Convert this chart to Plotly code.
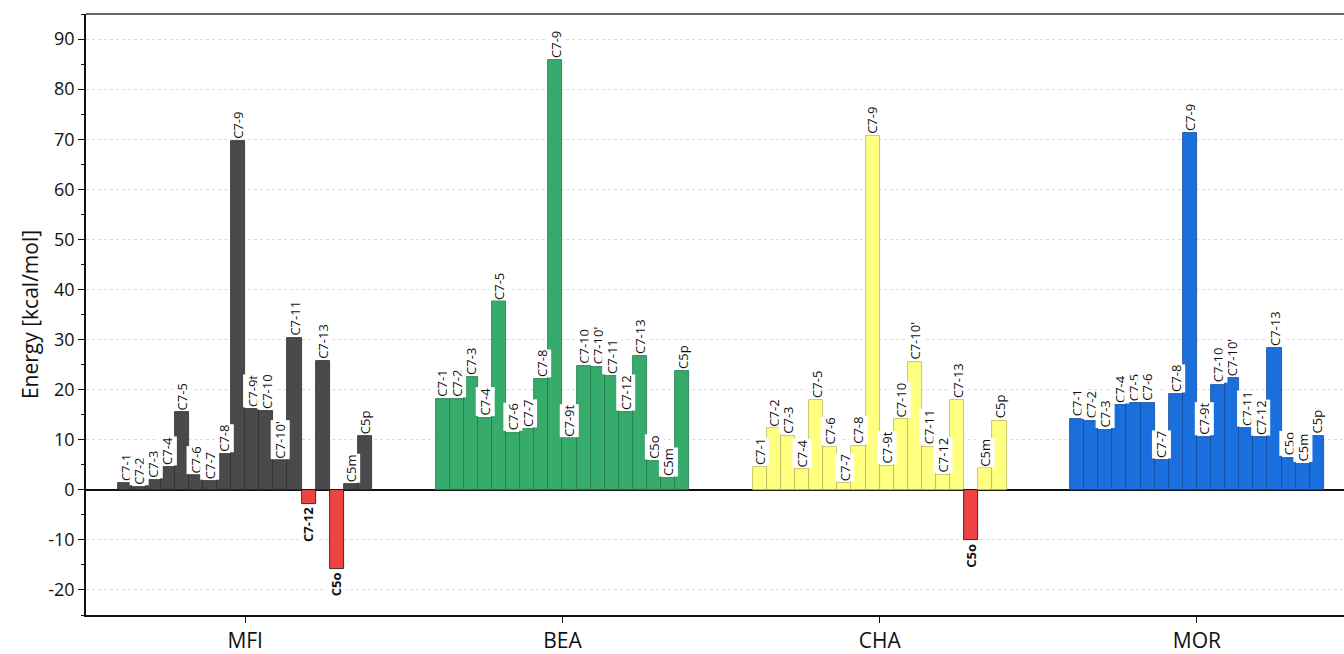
import plotly.graph_objects as go

structures = ["C7-1", "C7-2", "C7-3", "C7-4", "C7-5", "C7-6", "C7-7", "C7-8", "C7-9",
              "C7-9t", "C7-10", "C7-10'", "C7-11", "C7-12", "C7-13", "C5o", "C5m", "C5p"]
zeolites = ["MFI", "BEA", "CHA", "MOR"]

mfi = [1.3, 0.6, 2.0, 4.5, 15.5, 2.9, 1.8, 7.1, 69.6, 16.2, 15.7, 5.9, 30.4, -2.8, 25.8, -15.9, 1.1, 10.7]
bea = [18.2, 18.2, 22.6, 14.4, 37.6, 11.4, 12.1, 22.1, 85.8, 10.3, 24.8, 24.6, 22.8, 15.6, 26.8, 5.8, 2.4, 23.8]
cha = [4.6, 12.3, 10.7, 4.1, 17.9, 8.6, 1.3, 8.8, 70.7, 4.8, 14.1, 25.6, 8.6, 3.0, 17.9, -10.1, 4.3, 13.8]
mor = [14.2, 13.8, 12.0, 17.0, 17.3, 17.4, 6.0, 19.2, 71.3, 10.6, 21.0, 22.3, 12.3, 10.5, 28.3, 6.4, 5.2, 10.8]

y_ticks = [-20, -10, 0, 10, 20, 30, 40, 50, 60, 70, 80, 90]

series = [mfi, bea, cha, mor]
fill_colors = ["#4a4a4a", "#37ab6b", "#ffff80", "#1b6fdc"]
line_colors = ["#2e2e2e", "#1f7a48", "#b8b860", "#0f4a9a"]
neg_fill = "#ef4444"
neg_line = "#111111"

GROUP_SPACING = 22.5
n = len(structures)

fig = go.Figure()
annotations = []
for g, (name, vals) in enumerate(zip(zeolites, series)):
    xs = [g * GROUP_SPACING + i - (n - 1) / 2 for i in range(n)]
    colors = [fill_colors[g] if v >= 0 else neg_fill for v in vals]
    lcolors = [line_colors[g] if v >= 0 else neg_line for v in vals]
    fig.add_trace(go.Bar(
        x=xs, y=vals, width=1.0, name=name,
        marker=dict(color=colors, line=dict(color=lcolors, width=0.8)),
        showlegend=False,
    ))
    for x, v, s in zip(xs, vals, structures):
        if v >= 0:
            annotations.append(dict(
                x=x, y=v, xref="x", yref="y", text=s, showarrow=False,
                textangle=-90, xanchor="center", yanchor="bottom", yshift=1,
                bgcolor="white", borderpad=0,
                font=dict(family="Open Sans", size=13, color="#111"),
            ))
        else:
            annotations.append(dict(
                x=x, y=v, xref="x", yref="y", text="<b>" + s + "</b>", showarrow=False,
                textangle=-90, xanchor="center", yanchor="top", yshift=-2,
                bgcolor="white", borderpad=0,
                font=dict(family="Open Sans", size=13, color="#111"),
            ))

fig.update_layout(
    width=1344, height=654,
    margin=dict(l=86, r=0, t=14, b=37),
    paper_bgcolor="white", plot_bgcolor="white",
    bargap=0,
    annotations=annotations,
    font=dict(family="Open Sans", color="#111"),
    shapes=[dict(type="line", xref="paper", yref="paper", x0=0, x1=1, y0=1, y1=1,
                 line=dict(color="#666", width=2))],
)
fig.update_xaxes(
    range=[-11.29, 77.93],
    tickvals=[g * GROUP_SPACING for g in range(len(zeolites))],
    ticktext=zeolites,
    showline=True, linecolor="#111", linewidth=1.5,
    ticks="outside", ticklen=6, tickcolor="#111",
    tickfont=dict(size=21, family="Open Sans", color="#111"),
    showgrid=False, zeroline=False,
)
fig.update_yaxes(
    range=[-25, 95],
    tickvals=y_ticks,
    ticktext=[str(v) for v in y_ticks],
    showline=True, linecolor="#111", linewidth=1.5,
    ticks="outside", ticklen=6, tickcolor="#111",
    tickfont=dict(size=18, family="Open Sans", color="#111"),
    minor=dict(dtick=5, ticks="outside", ticklen=3, tickcolor="#111", showgrid=False),
    showgrid=True, gridcolor="#dcdcdc", griddash="dot", gridwidth=1,
    zeroline=True, zerolinecolor="#111", zerolinewidth=1.5,
    title=dict(text="Energy [kcal/mol]", font=dict(size=21, family="Open Sans", color="#111"), standoff=4),
)

fig.write_html("out.html")
